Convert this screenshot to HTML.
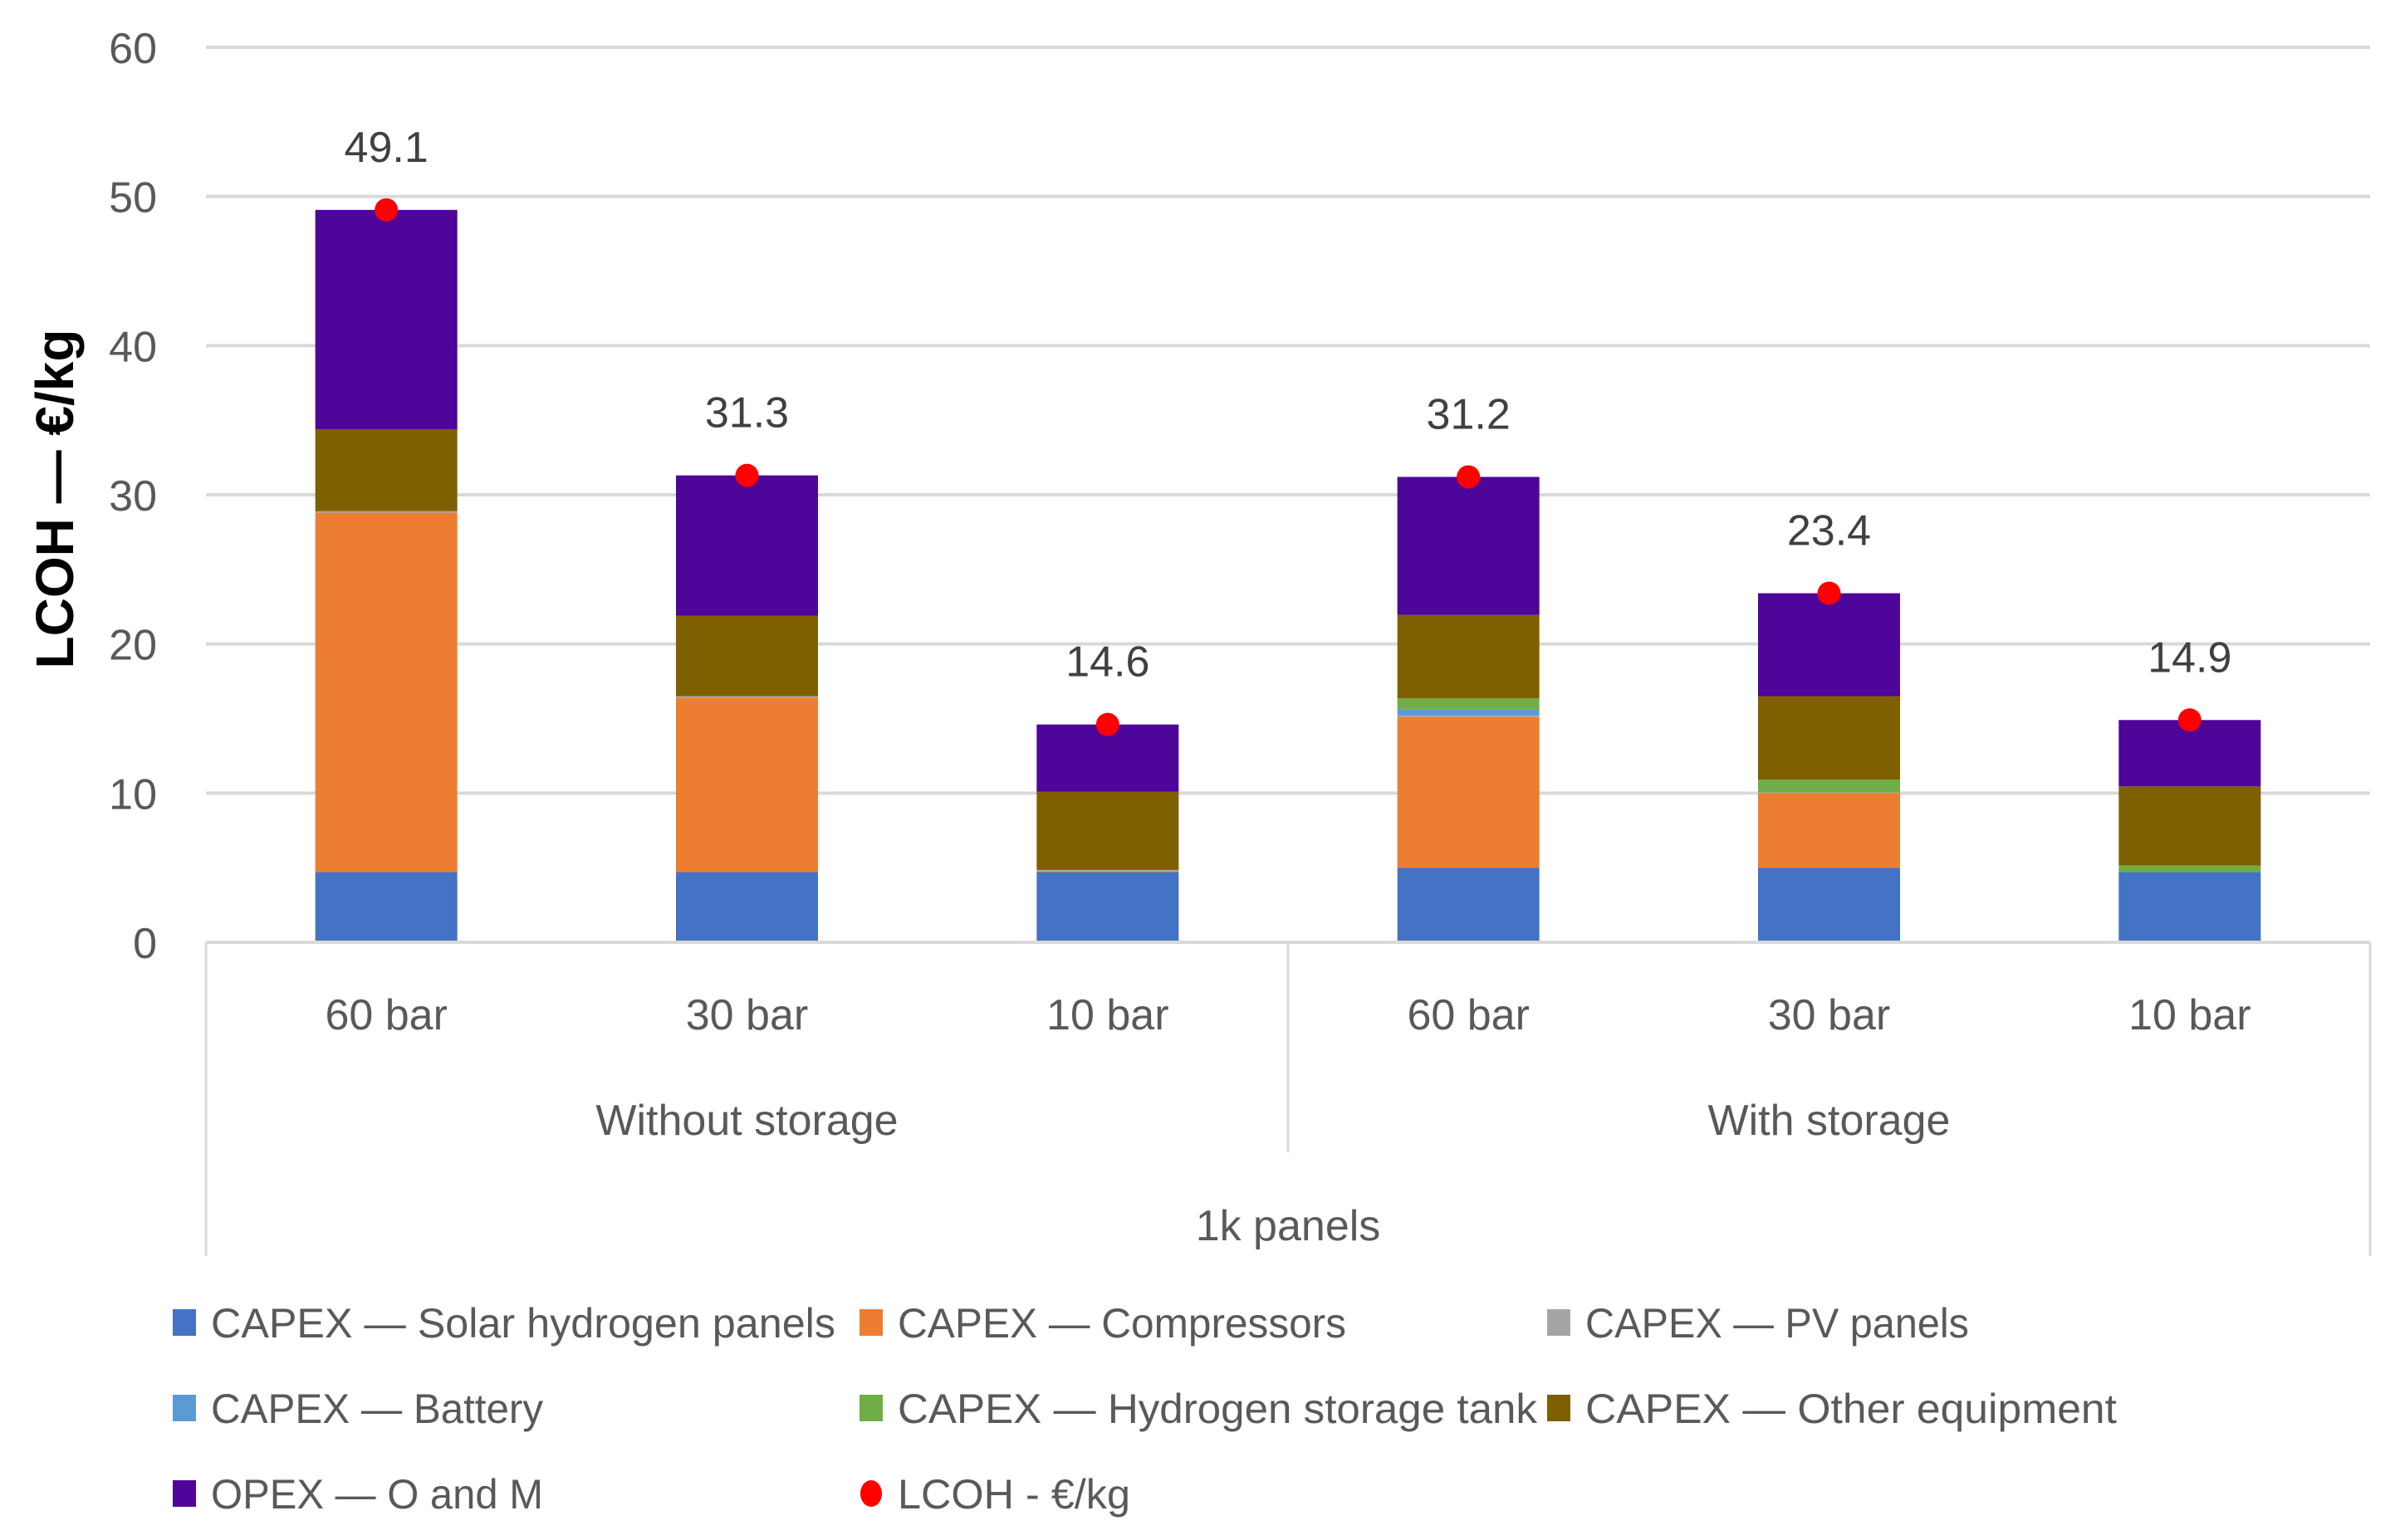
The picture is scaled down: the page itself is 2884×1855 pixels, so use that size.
<!DOCTYPE html>
<html><head><meta charset="utf-8"><style>
html,body{margin:0;padding:0;background:#fff;}
svg{display:block;font-family:"Liberation Sans",sans-serif;}
</style></head><body>
<svg id="chart" width="2884" height="1855" viewBox="0 0 2884 1855" xmlns="http://www.w3.org/2000/svg">
<g id="grid"></g><g id="bars"></g><g id="dots"></g><g id="axes"></g><g id="legend"></g>
<text transform="translate(88,601) rotate(-90)" text-anchor="middle" font-size="64" font-weight="bold" fill="#000">LCOH — €/kg</text>
</svg>
<script>
const categories = ["60 bar","30 bar","10 bar","60 bar","30 bar","10 bar"];
const groups = ["Without storage","With storage"];
const seriesNames = ["CAPEX — Solar hydrogen panels","CAPEX — Compressors","CAPEX — PV panels","CAPEX — Battery","CAPEX — Hydrogen storage tank","CAPEX — Other equipment","OPEX — O and M"];
const solar = [4.7,4.7,4.7,5.0,5.0,4.7];
const compressors = [24.1,11.7,0.05,10.1,5.0,0];
const pv = [0.1,0.1,0.1,0.1,0.05,0];
const battery = [0,0,0,0.4,0,0];
const tank = [0,0,0,0.75,0.85,0.45];
const other = [5.5,5.4,5.25,5.6,5.6,5.3];
const opex = [14.7,9.4,4.5,9.25,6.9,4.45];
const lcoh = [49.1,31.3,14.6,31.2,23.4,14.9];
const yTicks = [0,10,20,30,40,50,60];

const colors = ["#4472C4","#ED7D31","#A5A5A5","#5B9BD5","#70AD47","#7F6000","#4E0599"];
const series = [solar,compressors,pv,battery,tank,other,opex];
const NS="http://www.w3.org/2000/svg";
const L=248,R=2854,Y0=1135,Y60=57;
const y=v=>Y0-(v/60)*(Y0-Y60);
const bw=(R-L)/categories.length;
const x=i=>L+bw*(i+0.5);
const barW=171;
function mk(tag,attrs,parent,txt){const e=document.createElementNS(NS,tag);for(const k in attrs)e.setAttribute(k,attrs[k]);if(txt!==undefined)e.textContent=txt;document.getElementById(parent)?document.getElementById(parent).appendChild(e):parent.appendChild(e);return e;}
yTicks.forEach(t=>{
  if(t>0){const g=mk("line",{x1:L,x2:R,y1:y(t),y2:y(t),stroke:"#D9D9D9","stroke-width":4},"grid");
  
  }
  const tx=mk("text",{x:189,y:y(t)+19,"text-anchor":"end","font-size":52,fill:"#595959"},"axes",String(t));
  
  
});
categories.forEach((c,i)=>{
  let base=0;
  series.forEach((s,j)=>{
    const v=s[i]; if(v<=0)return;
    const r=mk("rect",{x:x(i)-barW/2,y:y(base+v),width:barW,height:y(base)-y(base+v),fill:colors[j]},"bars");
    
    
    base+=v;
  });
  const d=mk("circle",{cx:x(i),cy:y(lcoh[i]),r:14,fill:"#FF0000"},"dots");
  
  
  const lb=mk("text",{x:x(i),y:y(lcoh[i])-58,"text-anchor":"middle","font-size":52,fill:"#404040"},"dots",lcoh[i].toFixed(1));
  
  
  const cl=mk("text",{x:x(i),y:1240,"text-anchor":"middle","font-size":52,fill:"#595959"},"axes",c);
  
  
});
const ax=mk("line",{x1:L,x2:R,y1:Y0,y2:Y0,stroke:"#D9D9D9","stroke-width":4},"axes");


[[L,1513],[(L+R)/2,1388],[R,1513]].forEach((p,k)=>{
  const s=mk("line",{x1:p[0],x2:p[0],y1:Y0,y2:p[1],stroke:"#D9D9D9","stroke-width":3},"axes");
  
  
});
groups.forEach((g,k)=>{
  const t=mk("text",{x:L+(R-L)*(0.25+0.5*k),y:1367,"text-anchor":"middle","font-size":52,fill:"#595959"},"axes",g);
  
  
});
const pl=mk("text",{x:(L+R)/2,y:1494,"text-anchor":"middle","font-size":52,fill:"#595959"},"axes","1k panels");


const legCols=[208,1035,1863], legRows=[1593,1696,1799];
const legWidths=[752,540,462,400,770,640,400,280];
const legItems=seriesNames.concat(["LCOH - €/kg"]);
legItems.forEach((n,k)=>{
  const cx=legCols[k%3], cy=legRows[Math.floor(k/3)];
  let m;
  if(k<7){m=mk("rect",{x:cx,y:cy-16,width:28,height:32,fill:colors[k]},"legend");}
  else{m=mk("ellipse",{cx:cx+14,cy:cy,rx:13,ry:16,fill:"#FF0000"},"legend");}
  
  
  const t=mk("text",{x:cx+46,y:cy+18,"font-size":50,fill:"#595959",textLength:legWidths[k],lengthAdjust:"spacingAndGlyphs"},"legend",n);
  
  
});
</script>
</body></html>
